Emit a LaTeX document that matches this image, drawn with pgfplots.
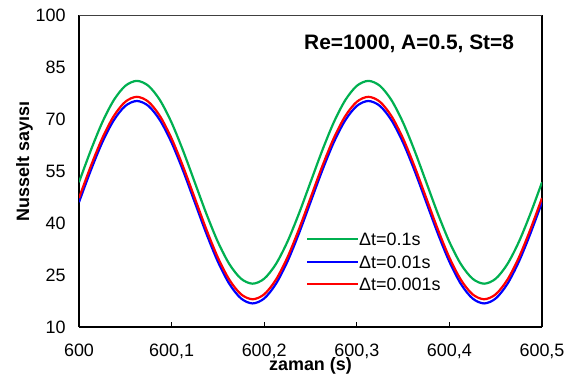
\documentclass[border=0pt]{standalone}
\usepackage{pgfplots}
\pgfplotsset{compat=1.18}
\usepackage{pgfplotstable}
\usepackage{fontspec}
\setmainfont{Liberation Sans}
\definecolor{cgreen}{HTML}{00B050}
\definecolor{cblue}{HTML}{0000FF}
\definecolor{cred}{HTML}{FF0000}

% t = time - 600 s
\pgfplotstableread{
t g b r
0.0000 51.75 46.00 47.20
0.0125 60.79 55.02 56.22
0.0250 68.95 63.17 64.37
0.0375 75.41 69.62 70.82
0.0500 79.57 73.77 74.97
0.0625 81.00 75.20 76.40
0.0750 79.57 73.77 74.97
0.0875 75.41 69.62 70.82
0.1000 68.95 63.17 64.37
0.1125 60.79 55.02 56.22
0.1250 51.75 46.00 47.20
0.1375 42.71 36.98 38.18
0.1500 34.55 28.83 30.03
0.1625 28.09 22.38 23.58
0.1750 23.93 18.23 19.43
0.1875 22.50 16.80 18.00
0.2000 23.93 18.23 19.43
0.2125 28.09 22.38 23.58
0.2250 34.55 28.83 30.03
0.2375 42.71 36.98 38.18
0.2500 51.75 46.00 47.20
0.2625 60.79 55.02 56.22
0.2750 68.95 63.17 64.37
0.2875 75.41 69.62 70.82
0.3000 79.57 73.77 74.97
0.3125 81.00 75.20 76.40
0.3250 79.57 73.77 74.97
0.3375 75.41 69.62 70.82
0.3500 68.95 63.17 64.37
0.3625 60.79 55.02 56.22
0.3750 51.75 46.00 47.20
0.3875 42.71 36.98 38.18
0.4000 34.55 28.83 30.03
0.4125 28.09 22.38 23.58
0.4250 23.93 18.23 19.43
0.4375 22.50 16.80 18.00
0.4500 23.93 18.23 19.43
0.4625 28.09 22.38 23.58
0.4750 34.55 28.83 30.03
0.4875 42.71 36.98 38.18
0.5000 51.75 46.00 47.20
}\data

\begin{document}
\begin{tikzpicture}
\begin{axis}[
  scale only axis, width=463bp, height=312bp,
  xmin=0, xmax=0.5, ymin=10, ymax=100,
  xtick={0,0.1,0.2,0.3,0.4,0.5},
  xticklabels={600,{600,1},{600,2},{600,3},{600,4},{600,5}},
  ytick={10,25,40,55,70,85,100},
  /pgf/number format/assume math mode=true,
  separate axis lines,
  axis x line*=bottom, axis y line*=box,
  axis line style={line width=1.5bp, black, -},
  xtick align=inside, major tick length=5bp,
  xtick style={line width=1bp, black},
  ytick pos=left,
  ytick style={draw=none, line width=0pt},
  tick label style={font=\fontsize{18}{21}\selectfont},
  xticklabel style={yshift=-13bp},
  yticklabel style={xshift=-10bp},
  xlabel={zaman (s)},
  xlabel style={font=\fontsize{18}{21}\selectfont\bfseries, at={(axis description cs:0.5,0)}, anchor=center, yshift=-39bp},
  ylabel={Nusselt sayısı},
  ylabel style={font=\fontsize{18}{21}\selectfont\bfseries, at={(axis description cs:-0.118,0.53)}, anchor=center},
  legend cell align=left,
  legend image code/.code={\draw[#1, line width=2.2bp] (0bp,0bp) -- (51bp,0bp);},
  legend style={at={(axis description cs:0.4903,0.302)}, anchor=north west, draw=none, fill=none,
    inner sep=0pt, outer sep=0pt, font=\fontsize{18}{21}\selectfont, row sep=9.5bp,
    nodes={inner sep=0pt, text height=13bp, text depth=0bp},
    /tikz/every even column/.append style={column sep=6bp}},
]
\addplot[cgreen, line width=2.2bp, smooth] table[x=t, y=g] {\data};
\addlegendentry{Δt=0.1s}
\addplot[cblue, line width=2.2bp, smooth] table[x=t, y=b] {\data};
\addlegendentry{Δt=0.01s}
\addplot[cred, line width=2.2bp, smooth] table[x=t, y=r] {\data};
\addlegendentry{Δt=0.001s}
\draw[line width=0.8bp, black!75] (rel axis cs:0,1) -- (rel axis cs:1,1);
\node[anchor=base, font=\fontsize{21}{25}\selectfont\bfseries] at (axis description cs:0.713,0.888) {Re=1000, A=0.5, St=8};
\end{axis}
\path ([shift={(-79bp,-53bp)}]current axis.south west) rectangle ([shift={(35bp,15bp)}]current axis.north east);
\end{tikzpicture}
\end{document}
